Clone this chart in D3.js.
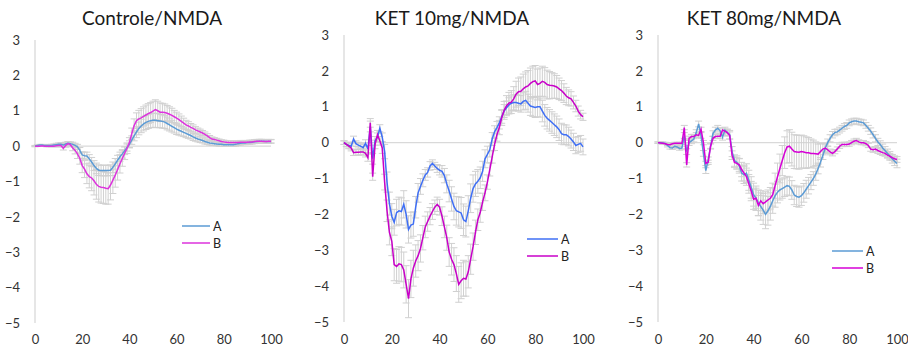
<!DOCTYPE html>
<html><head><meta charset="utf-8">
<script src="https://cdn.jsdelivr.net/npm/d3@7"></script>
<style>body{margin:0;background:#fff;}svg{display:block;font-family:Lato,"Open Sans",sans-serif;}</style>
</head><body><svg id="c" width="908" height="350"></svg>
<script>
const xTicks = [0,20,40,60,80,100];
const yTicks = [3,2,1,0,-1,-2,-3,-4,-5];
const titles = ["Controle/NMDA","KET 10mg/NMDA","KET 80mg/NMDA"];
const seriesNames = ["A","B"];

const ctrlA = [0.00,0.02,0.03,0.03,0.02,0.02,0.02,0.02,0.03,0.04,0.05,0.05,0.03,0.06,0.08,0.07,0.05,0.02,-0.02,-0.12,-0.25,-0.27,-0.28,-0.36,-0.45,-0.55,-0.63,-0.68,-0.69,-0.69,-0.69,-0.69,-0.68,-0.60,-0.50,-0.40,-0.30,-0.22,-0.13,-0.04,0.05,0.17,0.29,0.40,0.50,0.57,0.63,0.67,0.70,0.72,0.73,0.73,0.72,0.71,0.70,0.68,0.64,0.60,0.56,0.52,0.48,0.45,0.42,0.39,0.36,0.33,0.30,0.26,0.23,0.20,0.18,0.16,0.13,0.11,0.09,0.08,0.07,0.06,0.05,0.05,0.04,0.04,0.04,0.04,0.04,0.05,0.07,0.08,0.09,0.09,0.10,0.10,0.11,0.12,0.13,0.14,0.14,0.14,0.13,0.13,0.13];
const ctrlB = [0.00,0.00,0.00,0.01,0.00,0.00,0.00,0.00,0.00,0.01,0.02,0.02,-0.06,0.02,0.07,0.04,-0.05,-0.12,-0.22,-0.35,-0.55,-0.65,-0.78,-0.86,-0.90,-0.98,-1.08,-1.14,-1.16,-1.17,-1.19,-1.20,-1.10,-0.96,-0.82,-0.66,-0.50,-0.35,-0.20,-0.06,0.10,0.35,0.58,0.72,0.77,0.80,0.84,0.88,0.92,0.95,0.99,1.03,1.00,0.96,0.96,0.95,0.93,0.90,0.87,0.83,0.79,0.75,0.70,0.65,0.60,0.57,0.53,0.50,0.46,0.43,0.40,0.37,0.33,0.29,0.24,0.20,0.19,0.17,0.15,0.13,0.12,0.11,0.10,0.10,0.10,0.10,0.10,0.11,0.11,0.11,0.11,0.12,0.12,0.13,0.14,0.14,0.14,0.13,0.13,0.14,0.14];
const ctrlAErr = [0.02,0.02,0.02,0.02,0.02,0.02,0.03,0.03,0.03,0.04,0.04,0.05,0.05,0.05,0.05,0.05,0.06,0.06,0.07,0.08,0.09,0.10,0.11,0.12,0.13,0.14,0.15,0.15,0.15,0.15,0.15,0.15,0.15,0.15,0.15,0.14,0.13,0.12,0.11,0.10,0.10,0.12,0.14,0.16,0.18,0.19,0.20,0.20,0.20,0.20,0.20,0.20,0.20,0.19,0.19,0.18,0.18,0.17,0.16,0.15,0.15,0.14,0.13,0.12,0.12,0.11,0.10,0.10,0.09,0.08,0.08,0.07,0.07,0.06,0.06,0.06,0.05,0.05,0.05,0.05,0.05,0.05,0.05,0.05,0.05,0.05,0.05,0.05,0.05,0.05,0.05,0.05,0.05,0.05,0.05,0.05,0.05,0.05,0.05,0.05,0.05];
const ctrlBErr = [0.01,0.01,0.01,0.01,0.01,0.02,0.02,0.02,0.02,0.03,0.04,0.04,0.05,0.05,0.05,0.06,0.08,0.10,0.13,0.16,0.20,0.24,0.28,0.32,0.36,0.40,0.42,0.44,0.45,0.45,0.45,0.44,0.42,0.38,0.34,0.30,0.26,0.22,0.18,0.15,0.14,0.16,0.19,0.22,0.24,0.26,0.27,0.28,0.28,0.28,0.28,0.28,0.27,0.26,0.25,0.24,0.22,0.21,0.20,0.18,0.17,0.16,0.15,0.14,0.13,0.12,0.11,0.10,0.09,0.08,0.08,0.07,0.07,0.06,0.06,0.06,0.05,0.05,0.05,0.05,0.05,0.05,0.05,0.05,0.05,0.05,0.05,0.05,0.05,0.05,0.05,0.05,0.05,0.05,0.05,0.05,0.05,0.05,0.05,0.05,0.05];

const k10A = [0.00,-0.05,-0.08,-0.10,0.10,-0.03,-0.07,-0.10,-0.14,-0.02,-0.18,0.45,-0.45,0.05,0.15,0.40,0.15,-0.25,-1.10,-1.70,-2.05,-2.22,-1.95,-1.90,-1.92,-1.72,-2.00,-2.42,-2.30,-2.27,-1.80,-1.40,-1.22,-1.05,-0.90,-0.83,-0.65,-0.58,-0.65,-0.72,-0.77,-0.80,-0.92,-1.15,-1.35,-1.57,-1.78,-1.90,-1.93,-1.96,-2.15,-2.20,-1.90,-1.55,-1.28,-1.15,-1.08,-0.98,-0.80,-0.45,-0.33,-0.20,0.10,0.30,0.42,0.55,0.72,0.88,0.97,1.05,1.10,1.12,1.12,1.10,1.08,1.15,1.18,1.10,1.02,1.00,0.98,1.00,1.00,0.88,0.76,0.68,0.62,0.56,0.50,0.44,0.36,0.25,0.22,0.22,0.17,0.10,0.02,-0.08,-0.05,-0.02,-0.12];
const k10B = [0.00,-0.05,-0.10,-0.15,-0.28,-0.27,-0.27,-0.26,-0.26,-0.30,-0.42,0.55,-0.95,-0.05,0.22,0.05,-0.15,-1.10,-1.90,-2.50,-2.75,-3.40,-3.45,-3.38,-3.40,-3.55,-3.95,-4.35,-3.80,-3.50,-3.30,-3.15,-2.95,-2.65,-2.35,-2.20,-2.05,-1.92,-1.80,-1.72,-1.80,-2.05,-2.35,-2.65,-3.05,-3.25,-3.40,-3.65,-3.95,-3.85,-3.78,-3.80,-3.60,-3.25,-2.90,-2.50,-2.15,-1.95,-1.65,-1.40,-1.10,-0.75,-0.40,-0.05,0.22,0.42,0.70,0.90,1.03,1.10,1.13,1.22,1.35,1.42,1.43,1.50,1.55,1.58,1.65,1.70,1.72,1.62,1.65,1.71,1.68,1.62,1.60,1.59,1.58,1.55,1.50,1.45,1.38,1.30,1.25,1.22,1.12,1.02,0.88,0.78,0.72];
const k10AErr = [0.05,0.06,0.07,0.08,0.08,0.08,0.08,0.08,0.09,0.10,0.10,0.15,0.15,0.12,0.12,0.10,0.12,0.20,0.28,0.32,0.35,0.36,0.37,0.38,0.38,0.38,0.38,0.38,0.36,0.34,0.30,0.26,0.22,0.18,0.15,0.13,0.12,0.10,0.10,0.11,0.13,0.16,0.20,0.25,0.30,0.34,0.37,0.40,0.42,0.43,0.44,0.43,0.42,0.40,0.38,0.35,0.33,0.30,0.28,0.25,0.23,0.20,0.18,0.17,0.17,0.17,0.18,0.18,0.19,0.20,0.20,0.21,0.22,0.22,0.23,0.24,0.25,0.25,0.26,0.27,0.28,0.28,0.29,0.30,0.30,0.30,0.30,0.30,0.30,0.30,0.30,0.29,0.28,0.27,0.26,0.25,0.24,0.23,0.22,0.22,0.22];
const k10BErr = [0.05,0.06,0.07,0.08,0.08,0.08,0.08,0.08,0.09,0.10,0.10,0.12,0.10,0.12,0.12,0.12,0.15,0.22,0.30,0.35,0.40,0.45,0.47,0.48,0.48,0.50,0.52,0.53,0.52,0.50,0.45,0.42,0.38,0.34,0.30,0.27,0.24,0.22,0.20,0.20,0.22,0.26,0.30,0.35,0.40,0.44,0.47,0.50,0.50,0.50,0.50,0.48,0.45,0.42,0.38,0.34,0.30,0.27,0.24,0.22,0.20,0.18,0.17,0.17,0.18,0.20,0.22,0.25,0.28,0.30,0.32,0.34,0.36,0.38,0.40,0.41,0.42,0.43,0.43,0.43,0.43,0.43,0.43,0.42,0.41,0.40,0.38,0.36,0.34,0.32,0.30,0.28,0.26,0.24,0.22,0.20,0.18,0.16,0.14,0.12,0.10];

const k80A = [0.00,0.00,-0.01,-0.02,-0.08,-0.14,-0.15,-0.10,-0.12,-0.16,-0.15,0.20,-0.25,0.00,0.05,0.10,0.28,0.52,0.20,-0.30,-0.78,-0.48,-0.10,0.25,0.35,0.40,0.33,0.15,0.35,0.28,0.22,-0.25,-0.50,-0.55,-0.65,-0.85,-0.90,-0.85,-1.05,-1.25,-1.45,-1.55,-1.68,-1.78,-1.88,-2.00,-1.90,-1.78,-1.62,-1.48,-1.38,-1.32,-1.28,-1.24,-1.20,-1.22,-1.32,-1.46,-1.50,-1.52,-1.48,-1.40,-1.30,-1.20,-1.10,-1.00,-0.88,-0.72,-0.55,-0.35,-0.15,0.00,0.12,0.22,0.28,0.30,0.35,0.40,0.45,0.48,0.55,0.58,0.60,0.60,0.58,0.57,0.55,0.48,0.40,0.32,0.22,0.12,0.02,-0.05,-0.15,-0.22,-0.30,-0.37,-0.45,-0.52,-0.58];
const k80B = [0.00,-0.01,-0.02,-0.03,-0.05,-0.06,-0.03,-0.02,-0.02,-0.02,-0.02,0.42,-0.62,0.12,0.17,0.17,0.22,0.20,0.37,0.00,-0.58,-0.55,-0.10,0.12,0.17,0.18,0.18,0.35,0.32,0.28,0.20,-0.35,-0.55,-0.58,-0.62,-0.75,-0.85,-0.95,-1.15,-1.35,-1.58,-1.55,-1.75,-1.62,-1.70,-1.65,-1.60,-1.55,-1.45,-1.20,-0.95,-0.72,-0.50,-0.28,-0.12,-0.10,-0.18,-0.25,-0.26,-0.27,-0.25,-0.26,-0.28,-0.28,-0.30,-0.30,-0.31,-0.32,-0.25,-0.18,-0.15,-0.20,-0.26,-0.30,-0.25,-0.18,-0.10,-0.05,-0.05,-0.05,-0.04,0.00,0.04,0.06,0.02,0.00,0.00,-0.03,-0.08,-0.18,-0.20,-0.18,-0.22,-0.25,-0.28,-0.30,-0.35,-0.38,-0.42,-0.45,-0.47];
const k80AErr = [0.02,0.02,0.03,0.03,0.04,0.04,0.04,0.04,0.04,0.05,0.05,0.08,0.08,0.08,0.08,0.08,0.08,0.08,0.08,0.08,0.08,0.08,0.08,0.08,0.08,0.08,0.08,0.08,0.08,0.10,0.12,0.14,0.16,0.18,0.20,0.22,0.24,0.26,0.28,0.30,0.32,0.34,0.36,0.38,0.40,0.40,0.40,0.38,0.35,0.32,0.30,0.28,0.27,0.26,0.26,0.26,0.26,0.27,0.28,0.28,0.27,0.26,0.25,0.23,0.21,0.19,0.17,0.15,0.13,0.12,0.11,0.10,0.10,0.09,0.09,0.08,0.08,0.08,0.08,0.08,0.08,0.08,0.08,0.08,0.08,0.08,0.08,0.08,0.08,0.09,0.09,0.10,0.10,0.10,0.11,0.11,0.12,0.12,0.12,0.12,0.12];
const k80BErr = [0.02,0.02,0.02,0.02,0.03,0.03,0.03,0.03,0.03,0.03,0.03,0.06,0.06,0.06,0.06,0.06,0.06,0.06,0.06,0.06,0.06,0.06,0.06,0.06,0.06,0.06,0.06,0.06,0.06,0.08,0.10,0.12,0.14,0.16,0.18,0.20,0.22,0.24,0.26,0.27,0.28,0.28,0.28,0.28,0.28,0.28,0.28,0.30,0.32,0.35,0.38,0.40,0.42,0.44,0.45,0.46,0.47,0.47,0.47,0.47,0.46,0.45,0.44,0.42,0.40,0.37,0.33,0.28,0.22,0.16,0.12,0.10,0.08,0.07,0.06,0.06,0.06,0.06,0.06,0.06,0.06,0.06,0.06,0.06,0.06,0.06,0.06,0.06,0.06,0.06,0.07,0.07,0.08,0.08,0.08,0.08,0.08,0.08,0.08,0.08,0.08];

const panels = [
  {title:titles[0], A:ctrlA, B:ctrlB, AErr:ctrlAErr, BErr:ctrlBErr, x0:35, x1:271, yT:40, yB:323, tx:152, colA:"#5b9bd5", colB:"#dd33dd", leg:[182,210,226]},
  {title:titles[1], A:k10A, B:k10B, AErr:k10AErr, BErr:k10BErr, x0:344, x1:583, yT:35, yB:322, tx:452, colA:"#3f6ff5", colB:"#c800c8", leg:[527,558,239]},
  {title:titles[2], A:k80A, B:k80B, AErr:k80AErr, BErr:k80BErr, x0:658, x1:897, yT:35, yB:322, tx:764, colA:"#5b9bd5", colB:"#d600d6", leg:[832,863,251]}
];

const svg = d3.select("#c");
panels.forEach(p => {
  const g = svg.append("g");
  const x = d3.scaleLinear().domain([0,100]).range([p.x0,p.x1]);
  const y = d3.scaleLinear().domain([-5,3]).range([p.yB,p.yT]);
  const xs = d3.range(p.A.length);

  g.append("text").attr("x",p.tx).attr("y",25).attr("text-anchor","middle")
   .attr("font-size",19).attr("fill","#1a1a1a").text(p.title);

  const ya = d3.axisLeft(y).tickValues(yTicks).tickSize(0).tickPadding(15).tickFormat(d3.format("d"));
  const yg = g.append("g").attr("transform",`translate(${p.x0},0)`).call(ya);
  yg.select(".domain").remove();
  yg.selectAll("text").attr("font-size",13).attr("fill","#333").attr("font-family","Lato,sans-serif");

  const xa = d3.axisBottom(x).tickValues(xTicks).tickSize(0).tickPadding(0).tickFormat(d3.format("d"));
  const xg = g.append("g").attr("transform",`translate(0,335)`).call(xa);
  xg.select(".domain").remove();
  xg.selectAll("text").attr("font-size",13).attr("fill","#333").attr("font-family","Lato,sans-serif");

  g.append("line").attr("x1",p.x0).attr("x2",p.x0).attr("y1",y(3)).attr("y2",y(-5))
   .attr("stroke","#d9d9d9").attr("stroke-width",1.3);
  g.append("line").attr("x1",p.x0).attr("x2",p.x1).attr("y1",y(0)).attr("y2",y(0))
   .attr("stroke","#d9d9d9").attr("stroke-width",1.3);

  [[p.A,p.AErr],[p.B,p.BErr]].forEach(([vals,errs]) => {
    const eg = g.append("g").attr("stroke","#d0d0d0").attr("stroke-width",1);
    xs.forEach(i => {
      const cx = x(i), hi = y(vals[i]+errs[i]), lo = y(vals[i]-errs[i]);
      eg.append("line").attr("x1",cx).attr("x2",cx).attr("y1",hi).attr("y2",lo);
      eg.append("line").attr("x1",cx-3.5).attr("x2",cx+3.5).attr("y1",hi).attr("y2",hi);
      eg.append("line").attr("x1",cx-3.5).attr("x2",cx+3.5).attr("y1",lo).attr("y2",lo);
    });
  });

  const line = d3.line().x((d,i)=>x(i)).y(d=>y(d));
  g.append("path").datum(p.A).attr("d",line).attr("fill","none").attr("stroke",p.colA).attr("stroke-width",1.5);
  g.append("path").datum(p.B).attr("d",line).attr("fill","none").attr("stroke",p.colB).attr("stroke-width",1.5);

  [[seriesNames[0],p.colA,0],[seriesNames[1],p.colB,17]].forEach(([n,c,dy]) => {
    g.append("line").attr("x1",p.leg[0]).attr("x2",p.leg[1]).attr("y1",p.leg[2]+dy).attr("y2",p.leg[2]+dy)
     .attr("stroke",c).attr("stroke-width",1.5);
    g.append("text").attr("x",p.leg[1]+3).attr("y",p.leg[2]+dy+4.5).attr("font-size",12.5)
     .attr("fill","#222").text(n);
  });
});
</script></body></html>
